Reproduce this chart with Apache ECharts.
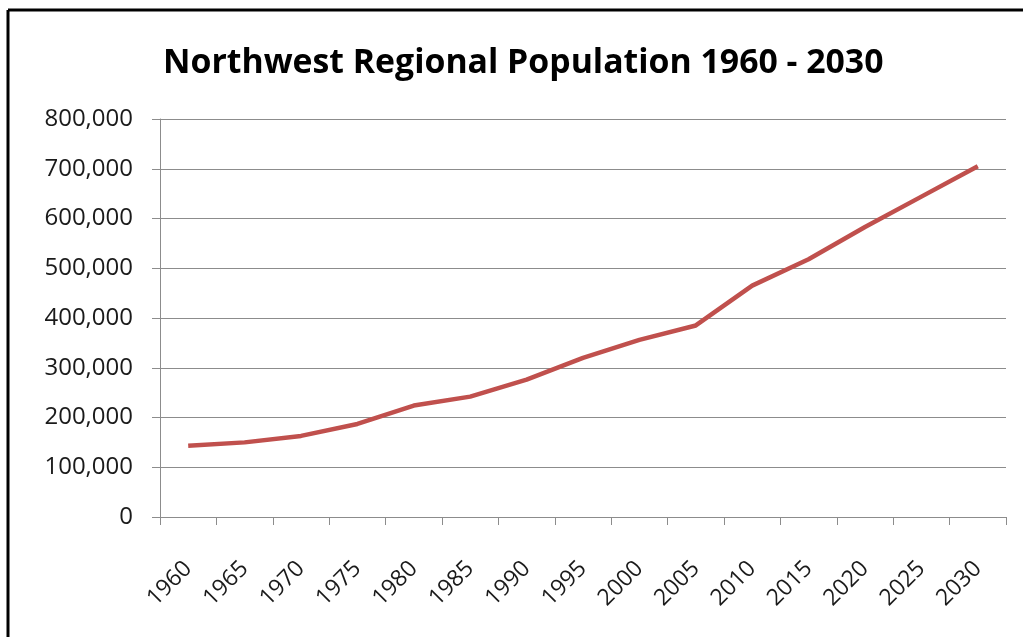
<!DOCTYPE html>
<html>
<head>
<meta charset="utf-8">
<script src="https://cdn.jsdelivr.net/npm/echarts@6/dist/echarts.min.js"></script>
<style>
  html, body { margin: 0; padding: 0; background: #fff; }
  #chart { width: 1023px; height: 637px; }
</style>
</head>
<body>
<div id="chart"></div>
<script>
// population by year
const years = ['1960', '1965', '1970', '1975', '1980', '1985', '1990', '1995',
               '2000', '2005', '2010', '2015', '2020', '2025', '2030'];
const population = [143000, 150000, 163000, 187000, 224000, 242000, 276000, 320000,
                    356000, 385000, 465000, 518000, 583000, 644000, 705000];

const chart = echarts.init(document.getElementById('chart'));

chart.setOption({
    animation: false,
    title: {
        text: 'Northwest Regional Population 1960 - 2030',
        left: 158,
        top: 41,
        textStyle: {
            fontFamily: 'Open Sans',
            fontWeight: 'bold',
            fontSize: 33.8,
            color: '#000'
        }
    },
    grid: {
        left: 160,
        right: 17,
        top: 119,
        bottom: 120
    },
    xAxis: {
        type: 'category',
        data: years,
        boundaryGap: true,
        axisLine: { lineStyle: { color: '#8c8c8c', width: 1 } },
        axisTick: { show: true, length: 8, alignWithLabel: false, lineStyle: { color: '#8c8c8c' } },
        axisLabel: {
            rotate: 45,
            fontFamily: 'Open Sans',
            fontSize: 23,
            color: '#1a1a1a',
            margin: 48
        }
    },
    yAxis: {
        type: 'value',
        min: 0,
        max: 800000,
        interval: 100000,
        axisLine: { show: true, lineStyle: { color: '#8c8c8c', width: 1 } },
        axisTick: { show: true, length: 8, inside: false, lineStyle: { color: '#8c8c8c' } },
        splitLine: { lineStyle: { color: '#8c8c8c', width: 1 } },
        axisLabel: {
            fontFamily: 'Open Sans',
            fontSize: 24,
            color: '#1a1a1a',
            margin: 27,
            formatter: v => v.toLocaleString('en-US')
        }
    },
    series: [{
        type: 'line',
        data: population,
        symbol: 'none',
        lineStyle: { color: '#c0504d', width: 4.5 }
    }],
    graphic: [
        { type: 'line', shape: { x1: 8, y1: 10, x2: 1023, y2: 10 }, style: { stroke: '#000', lineWidth: 3 } },
        { type: 'line', shape: { x1: 8, y1: 10, x2: 8, y2: 637 }, style: { stroke: '#000', lineWidth: 3 } }
    ]
});
</script>
</body>
</html>
